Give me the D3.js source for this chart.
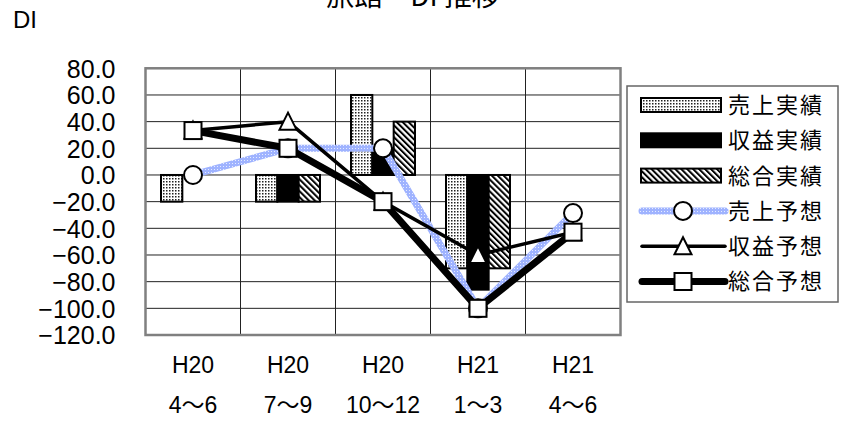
<!DOCTYPE html>
<html>
<head>
<meta charset="utf-8">
<script src="https://cdn.jsdelivr.net/npm/d3@7"></script>
<style>
  html, body { margin: 0; padding: 0; background: #fff; }
  svg { display: block; }
  text { font-family: "Liberation Sans", "Noto Sans CJK JP", sans-serif; fill: #000; }
  .jp { font-family: "Noto Sans CJK JP", sans-serif; }
</style>
</head>
<body>
<svg id="chart" width="845" height="425"></svg>
<script>
// Period labels (two lines per category)
const periodYear = ["H20", "H20", "H20", "H21", "H21"];
const periodMonths = ["4～6", "7～9", "10～12", "1～3", "4～6"];

// Actual DI (bars)
const salesActual  = [-20, -20, 60, -70, null];
const profitActual = [0, -20, 20, -86, null];
const totalActual  = [0, -20, 40, -70, null];

// Forecast DI (lines)
const salesForecast  = [0, 20, 20, -100, -28.6];
const profitForecast = [33.3, 40, -20, -60, -42.9];
const totalForecast  = [33.3, 20, -20, -100, -42.9];

const yTickValues = [80, 60, 40, 20, 0, -20, -40, -60, -80, -100, -120];

const barSeries = [
  { name: "売上実績", values: salesActual,  fill: "url(#stipple)" },
  { name: "収益実績", values: profitActual, fill: "#000" },
  { name: "総合実績", values: totalActual,  fill: "url(#hatch)" }
];
const lineSeries = [
  { name: "売上予想", values: salesForecast,  kind: "dotted", marker: "circle" },
  { name: "収益予想", values: profitForecast, kind: "thin",   marker: "triangle" },
  { name: "総合予想", values: totalForecast,  kind: "thick",  marker: "square" }
];

const svg = d3.select("#chart");
const plot = { left: 145.5, right: 620.5, top: 68.3, bottom: 335 };

// Patterns
const defs = svg.append("defs");
const stip = defs.append("pattern").attr("id", "stipple")
  .attr("width", 3).attr("height", 3).attr("patternUnits", "userSpaceOnUse");
stip.append("rect").attr("width", 3).attr("height", 3).attr("fill", "#fff");
stip.append("rect").attr("x", 1).attr("y", 1).attr("width", 1.5).attr("height", 1.5).attr("fill", "#222");

const hatch = defs.append("pattern").attr("id", "hatch")
  .attr("width", 4.2).attr("height", 4.2).attr("patternUnits", "userSpaceOnUse")
  .attr("patternTransform", "rotate(-45)");
hatch.append("rect").attr("width", 4.2).attr("height", 4.2).attr("fill", "#fff");
hatch.append("rect").attr("width", 2).attr("height", 4.2).attr("fill", "#000");

const blue = defs.append("pattern").attr("id", "bluedots")
  .attr("width", 3).attr("height", 3).attr("patternUnits", "userSpaceOnUse");
blue.append("rect").attr("width", 3).attr("height", 3).attr("fill", "#9fb3ff");
blue.append("rect").attr("x", 1).attr("y", 1).attr("width", 1).attr("height", 1).attr("fill", "#e6ecff");

// Scales
const idx = d3.range(periodYear.length);
const x = d3.scaleBand().domain(idx).range([plot.left, plot.right]).padding(0);
const xInner = d3.scaleBand().domain(d3.range(barSeries.length))
  .range([15.5, x.bandwidth() - 15.5]).padding(0);
const y = d3.scaleLinear().domain([-120, 80]).range([plot.bottom, plot.top]);

// Title and unit
svg.append("text").attr("class", "jp").attr("x", 413).attr("y", 6)
  .attr("text-anchor", "middle").attr("font-size", 28).text("旅館　DI 推移");
svg.append("text").attr("x", 13).attr("y", 28).attr("font-size", 24).text("DI");

// Grid
const grid = svg.append("g");
grid.selectAll("line.h").data(yTickValues).join("line")
  .attr("x1", plot.left).attr("x2", plot.right)
  .attr("y1", d => y(d)).attr("y2", d => y(d))
  .attr("stroke", "#222").attr("stroke-width", 1);
grid.selectAll("line.v").data(idx.slice(1)).join("line")
  .attr("x1", d => x(d)).attr("x2", d => x(d))
  .attr("y1", plot.top).attr("y2", plot.bottom)
  .attr("stroke", "#222").attr("stroke-width", 1);

// Y axis labels
const yAxis = d3.axisLeft(y).tickValues(yTickValues).tickFormat(d3.format(".1f"))
  .tickSize(0).tickPadding(30);
const yg = svg.append("g").attr("transform", `translate(${plot.left},0)`).call(yAxis);
yg.select(".domain").remove();
yg.selectAll("text").attr("font-size", 25).attr("dy", "0.35em")
  .style("font-family", "'Liberation Sans', sans-serif");

// X axis labels
const xAxisTop = d3.axisBottom(x).tickFormat(i => periodYear[i]).tickSize(0).tickPadding(0);
const xg1 = svg.append("g").attr("transform", `translate(0,357)`).call(xAxisTop);
xg1.select(".domain").remove();
xg1.selectAll("text").attr("font-size", 23).attr("dy", "0.35em").attr("y", 8);
const xAxisBottom = d3.axisBottom(x).tickFormat(i => periodMonths[i]).tickSize(0).tickPadding(0);
const xg2 = svg.append("g").attr("transform", `translate(0,397)`).call(xAxisBottom);
xg2.select(".domain").remove();
xg2.selectAll("text").attr("font-size", 23).attr("dy", "0.35em").attr("y", 8);

// Bars
barSeries.forEach((s, si) => {
  svg.append("g").selectAll("rect")
    .data(s.values.map((v, i) => ({ v, i })).filter(d => d.v !== null && d.v !== 0))
    .join("rect")
    .attr("x", d => x(d.i) + xInner(si))
    .attr("width", xInner.bandwidth())
    .attr("y", d => Math.min(y(d.v), y(0)))
    .attr("height", d => Math.abs(y(d.v) - y(0)))
    .attr("fill", s.fill).attr("stroke", "#000").attr("stroke-width", 2);
});

// Markers
function drawMarker(g, kind, cx, cy) {
  if (kind === "circle") {
    g.append("circle").attr("cx", cx).attr("cy", cy).attr("r", 9)
      .attr("fill", "#fff").attr("stroke", "#000").attr("stroke-width", 2);
  } else if (kind === "triangle") {
    g.append("path").attr("d", `M${cx},${cy - 9} L${cx + 8.5},${cy + 8} L${cx - 8.5},${cy + 8} Z`)
      .attr("fill", "#fff").attr("stroke", "#000").attr("stroke-width", 2);
  } else {
    g.append("rect").attr("x", cx - 8.5).attr("y", cy - 8.5).attr("width", 17).attr("height", 17)
      .attr("fill", "#fff").attr("stroke", "#000").attr("stroke-width", 2);
  }
}
function lineStyle(sel, kind) {
  if (kind === "dotted") sel.attr("stroke", "url(#bluedots)").attr("stroke-width", 7);
  else if (kind === "thin") sel.attr("stroke", "#000").attr("stroke-width", 3.5);
  else sel.attr("stroke", "#000").attr("stroke-width", 7);
  sel.attr("fill", "none").attr("stroke-linejoin", "round").attr("stroke-linecap", "round");
}

const cx = i => x(i) + x.bandwidth() / 2;
const line = d3.line().x(d => cx(d.i)).y(d => y(d.v));
lineSeries.forEach(s => {
  const g = svg.append("g");
  const pts = s.values.map((v, i) => ({ v, i }));
  lineStyle(g.append("path").attr("d", line(pts)), s.kind);
  pts.forEach(d => drawMarker(g, s.marker, cx(d.i), y(d.v)));
});

// Plot frame
svg.append("rect").attr("x", plot.left).attr("y", plot.top)
  .attr("width", plot.right - plot.left).attr("height", plot.bottom - plot.top)
  .attr("fill", "none").attr("stroke", "#808080").attr("stroke-width", 2.5);

// Legend
const lg = svg.append("g");
const legend = { x: 627, y: 86, w: 211, h: 216 };
lg.append("rect").attr("x", legend.x).attr("y", legend.y).attr("width", legend.w).attr("height", legend.h)
  .attr("fill", "#fff").attr("stroke", "#666").attr("stroke-width", 1.5);
const rowY = i => 105 + i * 35.3;
barSeries.forEach((s, i) => {
  lg.append("rect").attr("x", 641).attr("y", rowY(i) - 7).attr("width", 80).attr("height", 14)
    .attr("fill", s.fill).attr("stroke", "#000").attr("stroke-width", 2);
  lg.append("text").attr("class", "jp").attr("x", 728).attr("y", rowY(i)).attr("dy", "0.36em")
    .attr("font-size", 22).attr("letter-spacing", 2).text(s.name);
});
lineSeries.forEach((s, j) => {
  const i = j + 3;
  lineStyle(lg.append("path").attr("d", `M${642},${rowY(i)} L${725},${rowY(i)}`), s.kind);
  drawMarker(lg, s.marker, 683, rowY(i));
  lg.append("text").attr("class", "jp").attr("x", 728).attr("y", rowY(i)).attr("dy", "0.36em")
    .attr("font-size", 22).attr("letter-spacing", 2).text(s.name);
});
</script>
</body>
</html>
